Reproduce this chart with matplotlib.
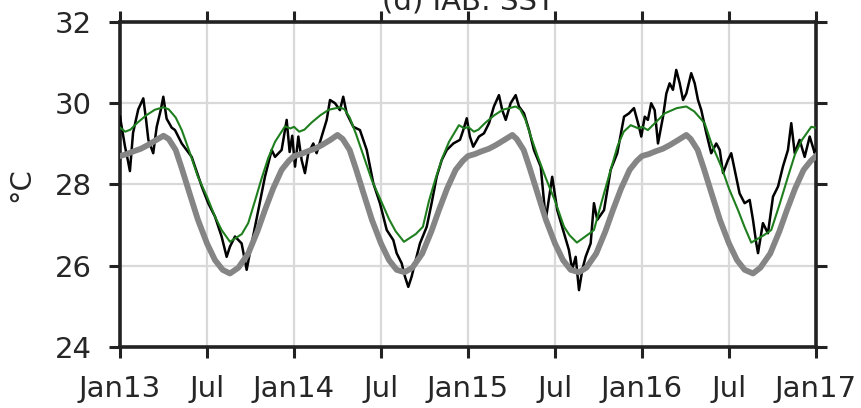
import numpy as np
import matplotlib
matplotlib.use("Agg")
import matplotlib.pyplot as plt

# ---- data (time in decimal years) ----
obs_t = [2013.000, 2013.019, 2013.029, 2013.045, 2013.057, 2013.075, 2013.105, 2013.134, 2013.150, 2013.163,
         2013.191, 2013.211, 2013.234, 2013.249, 2013.268, 2013.297, 2013.316, 2013.355, 2013.412, 2013.470,
         2013.507, 2013.546, 2013.584, 2013.613, 2013.632, 2013.661, 2013.699, 2013.728, 2013.757, 2013.795,
         2013.833, 2013.872, 2013.891, 2013.929, 2013.958, 2013.975, 2013.990,
         2014.006, 2014.025, 2014.044, 2014.063, 2014.082, 2014.111, 2014.130, 2014.159, 2014.188, 2014.207,
         2014.236, 2014.264, 2014.283, 2014.303, 2014.341, 2014.379, 2014.418, 2014.456, 2014.494, 2014.533,
         2014.571, 2014.590, 2014.619, 2014.638, 2014.657, 2014.676, 2014.695, 2014.724, 2014.763, 2014.791,
         2014.820, 2014.849, 2014.878, 2014.916, 2014.954, 2014.973, 2014.993,
         2015.011, 2015.030, 2015.063, 2015.092, 2015.121, 2015.149, 2015.178, 2015.197, 2015.217, 2015.245,
         2015.274, 2015.293, 2015.322, 2015.351, 2015.379, 2015.418, 2015.447, 2015.484, 2015.513, 2015.552,
         2015.580, 2015.599, 2015.619, 2015.638, 2015.657, 2015.676, 2015.705, 2015.724, 2015.743, 2015.782,
         2015.820, 2015.858, 2015.897, 2015.925, 2015.954, 2015.983, 2015.996,
         2016.016, 2016.034, 2016.053, 2016.073, 2016.092, 2016.121, 2016.140, 2016.159, 2016.178, 2016.197,
         2016.217, 2016.236, 2016.255, 2016.283, 2016.303, 2016.322, 2016.341, 2016.370, 2016.398, 2016.427,
         2016.447, 2016.466, 2016.494, 2016.513, 2016.533, 2016.561, 2016.590, 2016.619, 2016.638, 2016.657,
         2016.667, 2016.695, 2016.724, 2016.753, 2016.782, 2016.810, 2016.839, 2016.858, 2016.878, 2016.906,
         2016.935, 2016.964, 2016.993, 2017.000]
obs_sst = [29.67, 29.18, 28.93, 28.60, 28.33, 29.27, 29.85, 30.12, 29.59, 29.10,
           28.77, 29.42, 29.83, 30.16, 29.62, 29.40, 29.34, 29.01, 28.68, 27.95,
           27.54, 27.21, 26.72, 26.22, 26.47, 26.72, 26.55, 25.90, 26.55, 27.37,
           28.19, 28.85, 28.68, 28.85, 29.59, 28.80, 29.20,
           28.44, 29.18, 28.60, 28.28, 28.77, 29.01, 28.77, 29.18, 29.59, 30.08,
           30.00, 29.83, 30.16, 29.75, 29.42, 29.34, 28.85, 28.03, 27.54, 26.88,
           26.63, 26.31, 26.06, 25.73, 25.48, 25.73, 26.06, 26.55, 26.96, 27.54,
           28.19, 28.60, 28.85, 29.01, 29.10, 29.34, 29.63,
           29.18, 28.93, 29.18, 29.26, 29.51, 29.92, 30.20, 29.83, 29.59, 30.00,
           30.20, 29.92, 29.75, 29.34, 28.85, 28.44, 27.13, 28.19, 27.37, 26.80,
           26.39, 25.90, 26.22, 25.40, 25.90, 26.22, 26.55, 27.54, 27.13, 27.37,
           28.36, 28.77, 29.67, 29.75, 29.88, 29.42, 29.18,
           29.67, 29.59, 30.00, 29.83, 29.01, 29.67, 30.24, 30.49, 30.33, 30.82,
           30.49, 30.08, 30.24, 30.74, 30.49, 30.08, 29.83, 29.26, 28.77, 29.01,
           28.85, 28.28, 28.60, 28.77, 28.36, 27.78, 27.54, 27.62, 27.13, 26.55,
           26.31, 27.05, 26.80, 27.70, 27.95, 28.44, 28.85, 29.51, 28.77, 29.10,
           28.68, 29.18, 28.77, 28.85]

clim_t = [2013.00, 2013.04, 2013.08, 2013.12, 2013.16, 2013.21, 2013.25, 2013.28, 2013.32, 2013.355,
          2013.40, 2013.448, 2013.50, 2013.546, 2013.59, 2013.632, 2013.68, 2013.737, 2013.79, 2013.833,
          2013.88, 2013.929, 2013.97,
          2014.00, 2014.04, 2014.08, 2014.12, 2014.16, 2014.21, 2014.25, 2014.28, 2014.32, 2014.355,
          2014.40, 2014.448, 2014.50, 2014.546, 2014.59, 2014.635, 2014.68, 2014.737, 2014.79, 2014.833,
          2014.88, 2014.929, 2014.97,
          2015.00, 2015.04, 2015.08, 2015.12, 2015.16, 2015.21, 2015.255, 2015.28, 2015.32, 2015.355,
          2015.40, 2015.448, 2015.50, 2015.546, 2015.59, 2015.638, 2015.68, 2015.737, 2015.79, 2015.833,
          2015.88, 2015.929, 2015.97,
          2016.00, 2016.04, 2016.08, 2016.12, 2016.16, 2016.21, 2016.255, 2016.28, 2016.32, 2016.355,
          2016.40, 2016.448, 2016.50, 2016.546, 2016.59, 2016.638, 2016.68, 2016.737, 2016.79, 2016.833,
          2016.88, 2016.929, 2016.97, 2017.00]
clim_sst = [28.70, 28.75, 28.82, 28.88, 28.97, 29.10, 29.20, 29.12, 28.85, 28.40,
            27.78, 27.13, 26.55, 26.14, 25.90, 25.81, 25.95, 26.30, 26.85, 27.37,
            27.90, 28.36, 28.58,
            28.70, 28.75, 28.82, 28.88, 28.97, 29.10, 29.22, 29.12, 28.85, 28.40,
            27.78, 27.13, 26.55, 26.14, 25.90, 25.84, 25.95, 26.30, 26.85, 27.37,
            27.90, 28.36, 28.58,
            28.70, 28.75, 28.82, 28.88, 28.97, 29.10, 29.22, 29.12, 28.85, 28.40,
            27.78, 27.13, 26.55, 26.14, 25.90, 25.84, 25.95, 26.30, 26.85, 27.37,
            27.90, 28.36, 28.58,
            28.70, 28.75, 28.82, 28.88, 28.97, 29.10, 29.22, 29.12, 28.85, 28.40,
            27.78, 27.13, 26.55, 26.14, 25.90, 25.81, 25.95, 26.30, 26.85, 27.37,
            27.90, 28.36, 28.58, 28.70]

model_t = [2013.00, 2013.03, 2013.06, 2013.10, 2013.15, 2013.20, 2013.249, 2013.28, 2013.32, 2013.355,
           2013.40, 2013.448, 2013.50, 2013.546, 2013.584, 2013.632, 2013.70, 2013.737, 2013.776, 2013.814,
           2013.852, 2013.891, 2013.948, 2013.98,
           2014.00, 2014.03, 2014.06, 2014.10, 2014.15, 2014.20, 2014.264, 2014.29, 2014.32, 2014.355,
           2014.40, 2014.448, 2014.50, 2014.546, 2014.584, 2014.632, 2014.70, 2014.741, 2014.776, 2014.814,
           2014.852, 2014.891, 2014.948, 2014.98,
           2015.00, 2015.034, 2015.06, 2015.10, 2015.15, 2015.20, 2015.274, 2015.30, 2015.33, 2015.36,
           2015.40, 2015.448, 2015.50, 2015.552, 2015.584, 2015.626, 2015.70, 2015.724, 2015.77, 2015.82,
           2015.86, 2015.895, 2015.935, 2015.98,
           2016.00, 2016.034, 2016.06, 2016.10, 2016.13, 2016.20, 2016.255, 2016.30, 2016.36, 2016.40,
           2016.456, 2016.50, 2016.552, 2016.59, 2016.628, 2016.70, 2016.743, 2016.79, 2016.839, 2016.88,
           2016.92, 2016.973, 2016.995]
model_sst = [29.40, 29.30, 29.35, 29.52, 29.70, 29.84, 29.90, 29.85, 29.65, 29.34,
             28.80, 28.19, 27.70, 27.21, 26.88, 26.59, 26.78, 27.05, 27.60, 28.15,
             28.65, 29.05, 29.43, 29.38,
             29.42, 29.30, 29.35, 29.52, 29.70, 29.84, 29.90, 29.85, 29.65, 29.26,
             28.70, 28.10, 27.60, 27.15, 26.85, 26.59, 26.78, 26.96, 27.60, 28.15,
             28.65, 29.05, 29.46, 29.38,
             29.42, 29.30, 29.35, 29.52, 29.70, 29.84, 29.92, 29.85, 29.60, 29.20,
             28.70, 28.15, 27.60, 26.96, 26.75, 26.57, 26.80, 26.88, 27.60, 28.36,
             28.95, 29.30, 29.46, 29.38,
             29.42, 29.34, 29.45, 29.62, 29.75, 29.88, 29.92, 29.80, 29.51, 29.00,
             28.44, 27.90, 27.37, 26.95, 26.57, 26.75, 26.88, 27.50, 28.19, 28.75,
             29.10, 29.42, 29.40]

xticks = [2013.0, 2013.5, 2014.0, 2014.5, 2015.0, 2015.5, 2016.0, 2016.5, 2017.0]
xticklabels = ['Jan13', 'Jul', 'Jan14', 'Jul', 'Jan15', 'Jul', 'Jan16', 'Jul', 'Jan17']
yticks = [24, 26, 28, 30, 32]

# ---- figure ----
fig = plt.figure(figsize=(8.62, 4.08), dpi=100)
ax = fig.add_axes([0.1392, 0.1495, 0.8074, 0.7966])

ax.plot(obs_t, obs_sst, color='black', lw=1.8, zorder=3)
ax.plot(clim_t, clim_sst, color='#858585', lw=4.2, zorder=4)
ax.plot(model_t, model_sst, color='#1f7f1f', lw=1.5, zorder=5)

ax.set_xlim(2013.0, 2017.0)
ax.set_ylim(24, 32)
ax.set_xticks(xticks)
ax.set_xticklabels(xticklabels)
ax.set_yticks(yticks)

ax.grid(True, color='#d9d9d9', lw=1.6, zorder=0)
ax.set_axisbelow(True)

for s in ax.spines.values():
    s.set_linewidth(2.6)
    s.set_color('#222222')

ax.tick_params(axis='both', which='major', direction='out', length=8, width=2.2,
               color='#222222', labelsize=21, labelcolor='#262626',
               top=True, right=True)
ax.tick_params(axis='x', pad=12)
ax.tick_params(axis='y', pad=12)

ax.set_ylabel('°C', fontsize=21, color='#262626', labelpad=14)

# title sits mostly above the figure edge, as in the reference
fig.text(0.543, 0.9755, '(d) IAB: SST', fontsize=21, color='#262626',
         ha='center', va='baseline')

fig.savefig('out.png', dpi=100)
